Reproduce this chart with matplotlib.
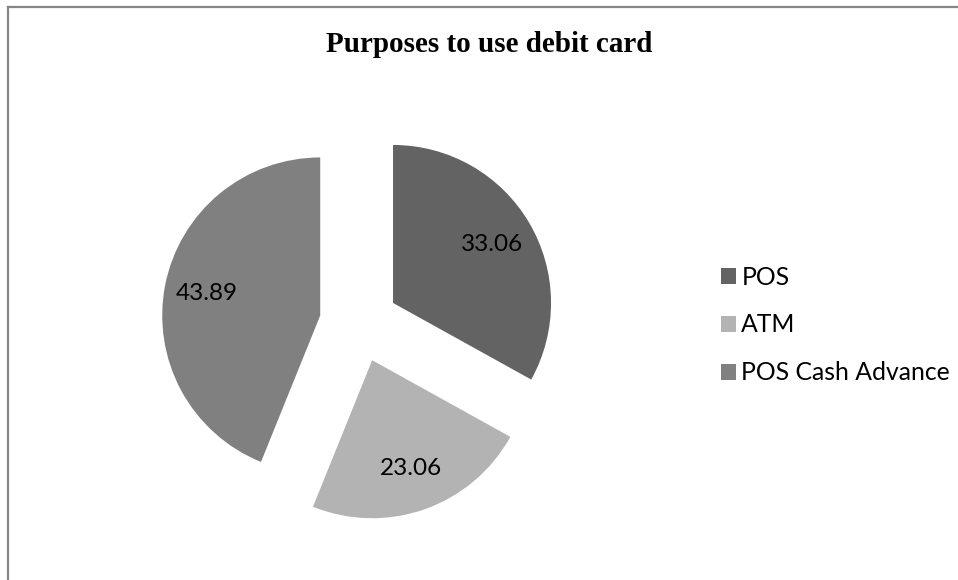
import matplotlib
matplotlib.use("Agg")
import matplotlib.pyplot as plt
from matplotlib.lines import Line2D

categories = ["POS", "ATM", "POS Cash Advance"]
values = [33.06, 23.06, 43.89]
colors = ["#636363", "#b3b3b3", "#808080"]
title = "Purposes to use debit card"

W, H, DPI = 958, 580, 100
fig = plt.figure(figsize=(W / DPI, H / DPI), dpi=DPI)
fig.patch.set_facecolor("white")

# chart border (left and top edges)
fig.add_artist(Line2D([8 / W, 8 / W], [0, 1 - 6.5 / H], transform=fig.transFigure,
                      color="#868686", lw=1.6))
fig.add_artist(Line2D([8 / W, 1], [1 - 6.5 / H, 1 - 6.5 / H], transform=fig.transFigure,
                      color="#868686", lw=1.6))

# square axes centred on the pie
cx, cy, side = 359, H - 323, 474
ax = fig.add_axes([(cx - side / 2) / W, (cy - side / 2) / H, side / W, side / H])

vals_iter = iter(values)
wedges, texts, autotexts = ax.pie(
    values,
    colors=colors,
    startangle=90,
    counterclock=False,
    explode=[0.25] * len(values),
    autopct=lambda p: f"{next(vals_iter):.2f}",
    pctdistance=0.73,
    radius=1.0,
    frame=False,
    wedgeprops=dict(linewidth=0),
    textprops=dict(family="Lato", fontsize=17.5, color="black"),
)
ax.set_xlim(-1.5, 1.5)
ax.set_ylim(-1.5, 1.5)
ax.set_aspect("equal")
ax.axis("off")

fig.text(489 / W, 1 - 44 / H, title, ha="center", va="center",
         family="Liberation Serif", fontweight="bold", fontsize=21)

fig.legend(
    wedges, categories,
    loc="center left",
    bbox_to_anchor=(721 / W, 1 - 325 / H),
    bbox_transform=fig.transFigure,
    frameon=False,
    borderpad=0, borderaxespad=0,
    handlelength=0.62, handleheight=0.62,
    handletextpad=0.2,
    labelspacing=1.0,
    prop=dict(family="Lato", size=17.8),
)

fig.savefig("out.png", dpi=DPI)
